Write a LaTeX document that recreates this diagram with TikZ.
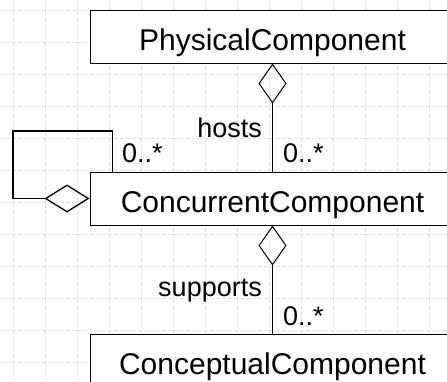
\documentclass[tikz,border=0pt]{standalone}
\usepackage{fontspec}
\setmainfont{Liberation Sans}
\usetikzlibrary{arrows.meta,calc}
\definecolor{gridblue}{HTML}{DDE3F5}
\begin{document}
\begin{tikzpicture}[x=1pt,y=-1pt,
  classbox/.style={draw=black, line width=1pt, fill=white,
    minimum width=365pt, minimum height=53pt, inner sep=0pt,
    text height=27pt, text depth=0pt, font=\fontsize{30}{36}\selectfont},
  lbl/.style={inner sep=0pt, font=\fontsize{27}{32}\selectfont},
  gridline/.style={draw=gridblue, line width=0.8pt, dash pattern=on 4pt off 2pt},
  assoc/.style={draw=black, line width=1pt},
  aggv/.style={{Diamond[open, length=40pt, width=28pt]}-},
  aggh/.style={{Diamond[open, length=45pt, width=28pt]}-}
]
\useasboundingbox (0,0) rectangle (447,381);
\clip (0,0) rectangle (447,381);

% background grid
\foreach \gx in {13,45,...,445} \draw[gridline] (\gx,0) -- (\gx,381);
\foreach \gy in {10,42,...,378} \draw[gridline] (0,\gy) -- (447,\gy);

% classes
\node[classbox] (phys) at (272.5,36.5) {PhysicalComponent};
\node[classbox] (conc) at (272.5,198.5) {ConcurrentComponent};
\node[classbox] (concept) at (272.5,360.5) {ConceptualComponent};

% associations
\draw[assoc, aggv] (phys.south) -- (conc.north);
\draw[assoc, aggv] (conc.south) -- (concept.north);

% reflexive aggregation on ConcurrentComponent
\coordinate (loopcorner) at (13,131);
\draw[assoc, line width=1.3pt, aggh] (conc.west) -| (loopcorner) -| ($(conc.north west)+(23,0)$);

% role names and multiplicities
\node[lbl, anchor=base east] (hosts) at (262,137) {hosts};
\node[lbl, anchor=base west] (multloop) at (122,162) {0..*};
\node[lbl, anchor=base west] (multhosts) at (283,162) {0..*};
\node[lbl, anchor=base east] (supports) at (262,296) {supports};
\node[lbl, anchor=base west] (multsupports) at (283,325) {0..*};
\end{tikzpicture}
\end{document}
